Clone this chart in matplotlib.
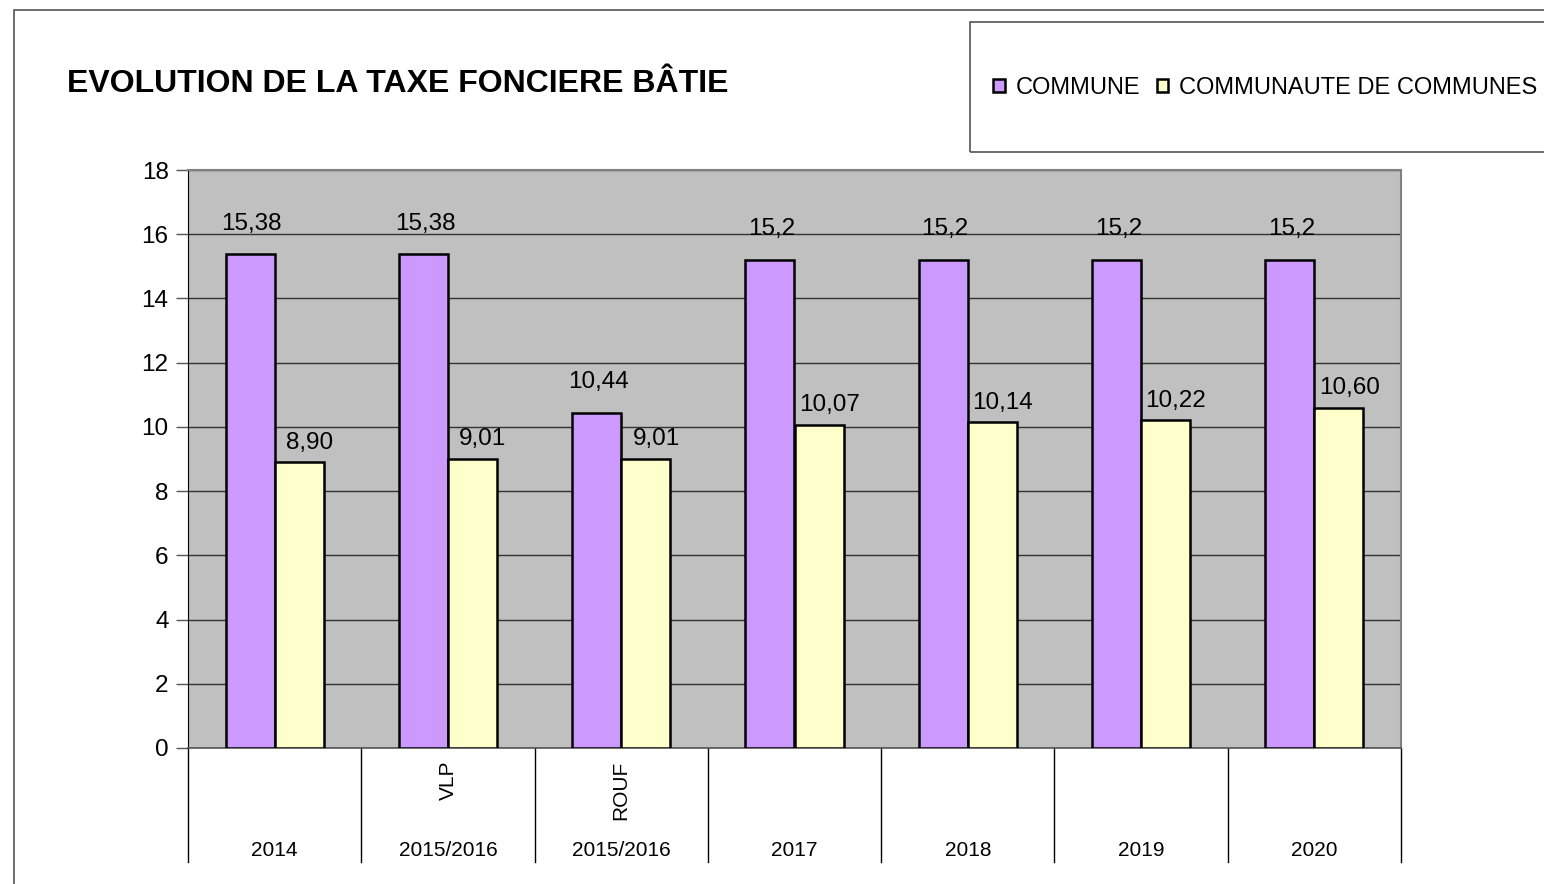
import matplotlib.pyplot as plt
from matplotlib.patches import Rectangle, Patch
import numpy as np

plt.rcParams['font.family'] = ['Liberation Sans', 'DejaVu Sans']

# data
years = ["2014", "2015/2016", "2015/2016", "2017", "2018", "2019", "2020"]
sub_labels = ["", "VLP", "ROUF", "", "", "", ""]
commune = [15.38, 15.38, 10.44, 15.2, 15.2, 15.2, 15.2]
commune_txt = ["15,38", "15,38", "10,44", "15,2", "15,2", "15,2", "15,2"]
cc = [8.90, 9.01, 9.01, 10.07, 10.14, 10.22, 10.60]
cc_txt = ["8,90", "9,01", "9,01", "10,07", "10,14", "10,22", "10,60"]

W, H = 1544, 884
fig = plt.figure(figsize=(W / 100, H / 100), dpi=100)

# outer chart frame
fig.add_artist(Rectangle((14 / W, -0.01), 1.0, 1 - 10 / H + 0.01, transform=fig.transFigure,
                         fill=False, edgecolor='#555555', lw=1.2))

ax = fig.add_axes([188 / W, 1 - 748 / H, (1401 - 188) / W, (748 - 170) / H])
ax.set_facecolor('#C0C0C0')

x = np.arange(len(years))
bw = 0.283
ax.bar(x - bw / 2, commune, bw, color='#CC99FF', edgecolor='black', lw=1.8, zorder=3)
ax.bar(x + bw / 2, cc, bw, color='#FFFFCC', edgecolor='black', lw=1.8, zorder=3)

for i in range(len(years)):
    ax.text(x[i] - bw / 2 + 0.01, commune[i] + 0.95, commune_txt[i], ha='center', va='center',
            fontsize=17.5, zorder=4)
    ax.text(x[i] + bw / 2 + 0.06, cc[i] + 0.6, cc_txt[i], ha='center', va='center',
            fontsize=17.5, zorder=4)

ax.set_xlim(-0.5, len(years) - 0.5)
ax.set_ylim(0, 18)
ax.set_yticks(range(0, 19, 2))
ax.tick_params(axis='y', labelsize=17.5, length=9, width=1, color='#555555', pad=5)
ax.set_xticks([])
ax.yaxis.grid(True, color='#333333', lw=1)
ax.set_axisbelow(True)
for s in ['top', 'right']:
    ax.spines[s].set_color('#808080')
    ax.spines[s].set_linewidth(1.5)
ax.spines['left'].set_color('black')
ax.spines['bottom'].set_color('#555555')
ax.spines['bottom'].set_linewidth(1.2)

# category table below the axis
trans = ax.get_xaxis_transform()
depth = (862 - 748) / (748 - 170)
for b in np.arange(-0.5, len(years), 1.0):
    ax.plot([b, b], [0, -depth], transform=trans, color='black', lw=1, clip_on=False)
for i in range(len(years)):
    ax.text(x[i], -(851 - 748) / (748 - 170), years[i], transform=trans, ha='center',
            va='center', fontsize=15)
    if sub_labels[i]:
        ax.text(x[i], -(761 - 748) / (748 - 170), sub_labels[i], transform=trans, ha='center',
                va='top', rotation=90, fontsize=15)

fig.text(67 / W, 1 - 84 / H, "EVOLUTION DE LA TAXE FONCIERE BÂTIE", fontsize=23,
         fontweight='bold', va='center', ha='left')

# legend box
fig.add_artist(Rectangle((970 / W, 1 - 152 / H), 1.0, (152 - 22) / H, transform=fig.transFigure,
                         fill=False, edgecolor='#555555', lw=1.2))
handles = [Patch(facecolor='#CC99FF', edgecolor='black', lw=1.8),
           Patch(facecolor='#FFFFCC', edgecolor='black', lw=1.8)]
fig.legend(handles, ["COMMUNE", "COMMUNAUTE DE COMMUNES"], loc='center left',
           bbox_to_anchor=(993 / W, 1 - 88 / H), ncol=2, frameon=False, fontsize=17,
           handlelength=0.5, handleheight=0.5, handletextpad=0.45, columnspacing=0.7,
           borderpad=0, borderaxespad=0)

fig.savefig('out.png', dpi=100)
